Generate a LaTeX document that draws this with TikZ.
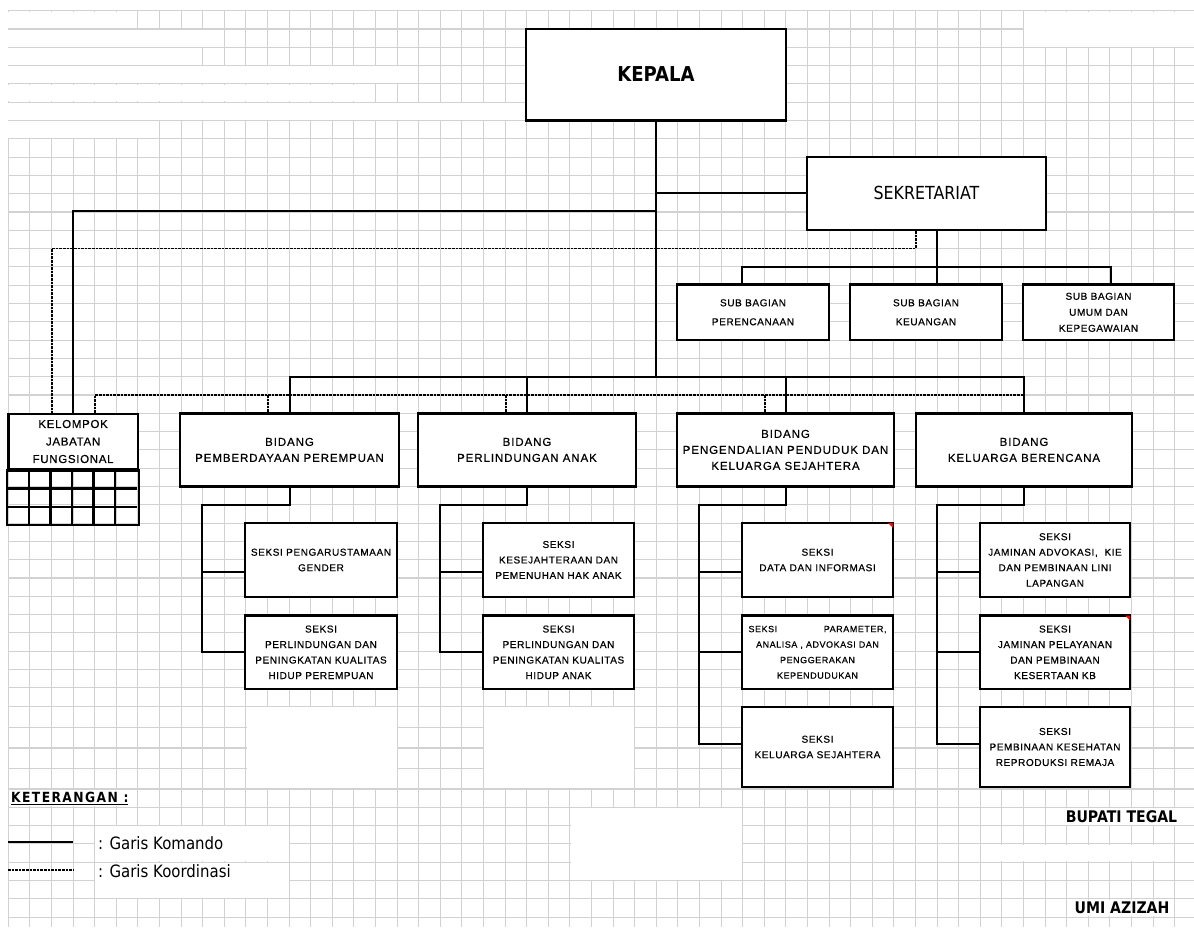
\documentclass[tikz,border=0pt]{standalone}
\usepackage{fontspec}
\setmainfont{Liberation Sans}
\newfontfamily\bdf[LetterSpace=8,FakeBold=0.6]{Liberation Sans}
\newfontfamily\sxf[LetterSpace=6,FakeBold=0.6]{Liberation Sans}
\newfontfamily\thf[FakeStretch=0.88]{DejaVu Sans}
\newfontfamily\thls[FakeStretch=0.88,LetterSpace=10]{DejaVu Sans}
\definecolor{gridc}{RGB}{210,210,210}
\begin{document}
\begin{tikzpicture}[x=1pt,y=-1pt,
  obox/.style={draw, line width=2.4pt, fill=white, align=center, inner sep=0pt},
  cmd/.style={line width=2pt},
  crd/.style={line width=1.3pt, dash pattern=on 2.6pt off 1pt},
  gridl/.style={draw=gridc, line width=1.1pt},
  bidbox/.style={obox, minimum width=#1, minimum height=73.2pt, font=\bdf\fontsize{11.5}{16}\selectfont},
  seksibox/.style={obox, minimum width=151pt, font=\sxf\fontsize{10}{15.5}\selectfont},
  subbox/.style={obox, minimum width=#1, minimum height=55.6pt, font=\sxf\fontsize{10}{16}\selectfont},
  lbl/.style={inner sep=0pt, anchor=west, font=\thf\fontsize{17}{20}\selectfont},
  sig/.style={fill=white, inner xsep=1pt, inner ysep=0pt, minimum height=16.6pt, font=\thf\bfseries\fontsize{16}{19}\selectfont}
]
\useasboundingbox (0,0) rectangle (1194,927);
\fill[white] (0,0) rectangle (1194,927);
% ---------------- spreadsheet grid ----------------
\foreach \k in {0,...,54} \draw[gridl] ({8.3+21.6*\k},10.7) -- ({8.3+21.6*\k},927);
\foreach \k in {0,...,38} \draw[gridl] (8.3,{10.7+18.3*\k}) -- (1194,{10.7+18.3*\k});
\foreach \yy in {727.5,748,768.5,789,807.3,825.6,843.9,862.2,880.5,898.8,917.1} \draw[gridl] (8.3,\yy) -- (1194,\yy);
% merged (white) cells
\fill[white] (6,11.5) rectangle (137.3,28.2);
\fill[white] (1024.1,11.5) rectangle (1194,46.5);
\fill[white] (6,29.8) rectangle (223.7,46.5);
\fill[white] (6,48.1) rectangle (202.1,64.8);
\fill[white] (6,66.4) rectangle (418.1,83.1);
\fill[white] (6,84.7) rectangle (354.2,101.4);
\fill[white] (6,103.0) rectangle (526,119.7);
\fill[white] (6,121.3) rectangle (158.9,138.0);
\fill[white] (246.6,706.9) rectangle (396.5,788.2);
\fill[white] (484.1,706.9) rectangle (634.1,788.2);
\fill[white] (95.3,826.4) rectangle (288.5,861.4);
\fill[white] (95.3,863.0) rectangle (288.5,898.0);
\fill[white] (570.5,808.1) rectangle (742.1,879.7);
\fill[white] (980.9,844.7) rectangle (1174.1,861.4);
% ---------------- boxes ----------------
\node[obox, minimum width=260pt, minimum height=91.6pt, font=\thf\bfseries\fontsize{20.5}{24}\selectfont] (kepala) at (656,74.5) {KEPALA};
\node[obox, minimum width=239pt, minimum height=73pt, font=\thf\fontsize{18}{22}\selectfont] (sek) at (926.5,193.3) {SEKRETARIAT};
\node[subbox=152pt] (sb1) at (753,312.3) {SUB BAGIAN\\[3pt]PERENCANAAN};
\node[subbox=152pt] (sb2) at (926,312.3) {SUB BAGIAN\\[3pt]KEUANGAN};
\node[subbox=151pt] (sb3) at (1098.5,312.3) {SUB BAGIAN\\UMUM DAN\\KEPEGAWAIAN};
\node[obox, minimum width=129.6pt, minimum height=55.2pt, font=\sxf\fontsize{11.5}{17.5}\selectfont] (kjf) at (73.1,441.5) {KELOMPOK\\JABATAN\\FUNGSIONAL};
\draw[line width=2.4pt] (kjf.south west) rectangle ([yshift=-54.9pt]kjf.south east);
\foreach \i in {1,...,5} \draw[line width=2.4pt] ([xshift=\i*21.6pt]kjf.south west) -- ++(0,54.9);
\foreach \j in {1,2} \draw[line width=2.4pt] ([yshift=-\j*18.3pt]kjf.south west) -- ++(129.6,0);
\node[bidbox=219pt] (b1) at (289.5,449.9) {BIDANG\\PEMBERDAYAAN PEREMPUAN};
\node[bidbox=218pt] (b2) at (527,449.9) {BIDANG\\PERLINDUNGAN ANAK};
\node[bidbox=217pt] (b3) at (785.5,449.9) {BIDANG\\PENGENDALIAN PENDUDUK DAN\\KELUARGA SEJAHTERA};
\node[bidbox=216pt] (b4) at (1024,449.9) {BIDANG\\KELUARGA BERENCANA};
% seksi
\node[seksibox, minimum width=152pt, minimum height=74pt] (s11) at (321,560) {SEKSI PENGARUSTAMAAN\\GENDER};
\node[seksibox, minimum width=152pt, minimum height=73.5pt] (s12) at (321,652.3) {SEKSI\\PERLINDUNGAN DAN\\PENINGKATAN KUALITAS\\HIDUP PEREMPUAN};
\node[seksibox, minimum height=74pt] (s21) at (558.5,560) {SEKSI\\KESEJAHTERAAN DAN\\PEMENUHAN HAK ANAK};
\node[seksibox, minimum height=73.5pt] (s22) at (558.5,652.3) {SEKSI\\PERLINDUNGAN DAN\\PENINGKATAN KUALITAS\\HIDUP ANAK};
\node[seksibox, minimum height=74pt] (s31) at (817.5,560) {SEKSI\\DATA DAN INFORMASI};
\node[seksibox, minimum height=73.5pt, font=\sxf\fontsize{9}{15.5}\selectfont] (s32) at (817.5,652.3) {\makebox[138pt]{SEKSI\hfill PARAMETER,}\\ANALISA , ADVOKASI DAN\\PENGGERAKAN\\KEPENDUDUKAN};
\node[seksibox, minimum height=80pt] (s33) at (817.5,747) {SEKSI\\KELUARGA SEJAHTERA};
\node[seksibox, minimum width=150pt, minimum height=74pt] (s41) at (1055,560) {SEKSI\\JAMINAN ADVOKASI,\ \ KIE\\DAN PEMBINAAN LINI\\LAPANGAN};
\node[seksibox, minimum width=150pt, minimum height=73.5pt] (s42) at (1055,652.3) {SEKSI\\JAMINAN PELAYANAN\\DAN PEMBINAAN\\KESERTAAN KB};
\node[seksibox, minimum width=150pt, minimum height=80pt] (s43) at (1055,747) {SEKSI\\PEMBINAAN KESEHATAN\\REPRODUKSI REMAJA};
% comment markers
\fill[red] ([xshift=-6pt,yshift=-1.2pt]s31.north east) -- ++(5,0) -- ++(0,5) -- cycle;
\fill[red] ([xshift=-6pt,yshift=-1.2pt]s42.north east) -- ++(5,0) -- ++(0,5) -- cycle;
% ---------------- command lines ----------------
\coordinate (kb) at (656,376.5);
\coordinate (kj) at (656,211);
\draw[cmd] (kepala.south) -- (kb);
\draw[cmd] (b1.north) |- (kb) -| (b4.north);
\draw[cmd] (b2.north) -- (b2.north |- kb);
\draw[cmd] (b3.north) -- (b3.north |- kb);
\draw[cmd] (kepala.south |- sek.west) -- (sek.west);
\draw[cmd] (kjf.north) |- (kj);
\coordinate (sv) at (937,266.9);
\draw[cmd] (sv |- sek.south) -- (sv);
\draw[cmd] ([xshift=-11pt]sb1.north) |- (sv) -| ([xshift=12pt]sb3.north);
\draw[cmd] (sv) -- (sv |- sb2.north);
% bidang -> seksi
\coordinate (t1) at (202,504.8);  \coordinate (u11) at (202,572); \coordinate (u12) at (202,652.3);
\coordinate (t2) at (440,504.8);  \coordinate (u21) at (440,572); \coordinate (u22) at (440,652.3);
\coordinate (t3) at (699,504.8);  \coordinate (u31) at (699,572); \coordinate (u32) at (699,652.3); \coordinate (u33) at (699,744);
\coordinate (t4) at (937,504.8);  \coordinate (u41) at (937,572); \coordinate (u42) at (937,652.3); \coordinate (u43) at (937,744);
\draw[cmd] (b1.south) |- (t1) -- (u12) -- (s12.west);
\draw[cmd] (u11) -- (u11 -| s11.west);
\draw[cmd] (b2.south) |- (t2) -- (u22) -- (s22.west);
\draw[cmd] (u21) -- (u21 -| s21.west);
\draw[cmd] (b3.south) |- (t3) -- (u33) -- (u33 -| s33.west);
\draw[cmd] (u31) -- (u31 -| s31.west);
\draw[cmd] (u32) -- (s32.west);
\draw[cmd] (b4.south) |- (t4) -- (u43) -- (u43 -| s43.west);
\draw[cmd] (u41) -- (u41 -| s41.west);
\draw[cmd] (u42) -- (s42.west);
% ---------------- coordination lines ----------------
\coordinate (dsk) at (916,248.3);
\draw[crd] (dsk |- sek.south) -- (dsk) -| ([xshift=-21pt]kjf.north);
\coordinate (dbe) at (1024,395);
\draw[crd] ([xshift=22pt]kjf.north) |- (dbe);
\coordinate (d1) at (268,395); \coordinate (d2) at (506,395); \coordinate (d3) at (765,395);
\draw[crd] (d1) -- (d1 |- b1.north);
\draw[crd] (d2) -- (d2 |- b2.north);
\draw[crd] (d3) -- (d3 |- b3.north);
% ---------------- legend ----------------
\node[fill=white, anchor=west, inner xsep=1pt, inner ysep=0pt, minimum height=16.6pt, font=\thls\bfseries\fontsize{14}{16}\selectfont] (ket) at (10,798) {\underline{KETERANGAN :}};
\coordinate (lk1) at (8,842); \coordinate (lk2) at (73,842);
\coordinate (lc1) at (8,870); \coordinate (lc2) at (73,870);
\draw[cmd] (lk1) -- (lk2);
\draw[crd] (lc1) -- (lc2);
\node[lbl] (gk) at (98,843) {: Garis Komando};
\node[lbl] (gc) at (98,871.5) {: Garis Koordinasi};
\node[sig] (bup) at (1121.5,816.5) {BUPATI TEGAL};
\node[sig] (umi) at (1122,907.9) {UMI AZIZAH};
\end{tikzpicture}
\end{document}
